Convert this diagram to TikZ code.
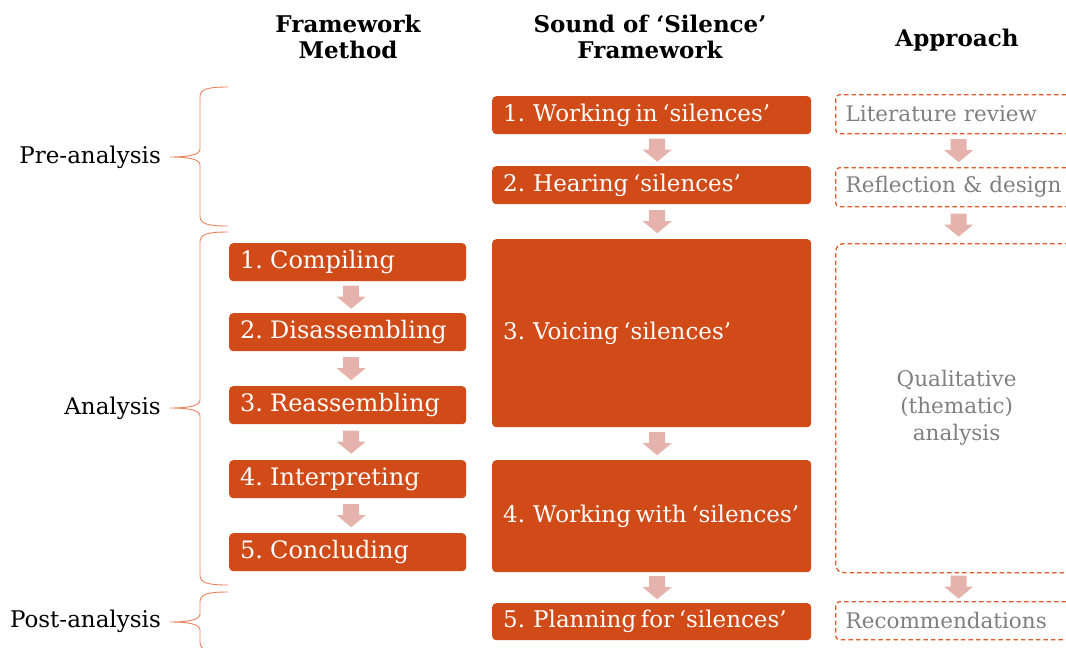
\documentclass[tikz,border=0pt]{standalone}
\usepackage{fontspec}
\setmainfont{DejaVu Serif}
\usetikzlibrary{calc}
\definecolor{boxfill}{HTML}{D14B18}
\definecolor{arrfill}{HTML}{E6B2AC}
\definecolor{dashcol}{HTML}{E2592B}
\definecolor{bracecol}{HTML}{E8825F}
\definecolor{graytxt}{HTML}{7F7F7F}
\newcommand\numlab[1]{\makebox[30pt][l]{#1}}
\newcommand\lefttext[2]{\makebox[#1][l]{#2}}
\newcommand\midfont{\fontsize{23}{28}\selectfont\spaceskip=0.2em plus 0.05em\relax}
\newcommand\grayfont{\fontsize{21.5}{27}\selectfont\spaceskip=0.22em plus 0.05em\relax}
\tikzset{
  obox/.style={fill=boxfill, text=white, rounded corners=4pt, anchor=north west,
    inner xsep=11pt, inner ysep=0pt, minimum height=38pt},
  leftbox/.style={obox, minimum width=237pt, font=\fontsize{24}{28}\selectfont},
  midbox/.style={obox, minimum width=319pt, font=\midfont},
  dbox/.style={draw=dashcol, dash pattern=on 4.5pt off 3pt, line width=1.3pt, text=graytxt,
    rounded corners=4pt, anchor=north west, minimum height=39pt, text width=222pt,
    inner xsep=10pt, inner ysep=0pt, align=left, font=\grayfont},
  hdr/.style={font=\bfseries\fontsize{23}{26}\selectfont, align=center},
  lbl/.style={font=\fontsize{23}{26}\selectfont, anchor=east, inner sep=0pt},
  brace/.style={draw=bracecol, line width=0.9pt},
  dnarrow/.pic={\fill[arrfill] (-8,0) -- (8,0) -- (8,11) -- (14.5,11) -- (0,23) -- (-14.5,11) -- (-8,11) -- cycle;}
}
\begin{document}
\begin{tikzpicture}[x=1pt,y=-1pt]
\useasboundingbox (0,0) rectangle (1066,648);
\clip (0,0) rectangle (1066,648);

% headers
\node[hdr] (h1) at (348,37) {Framework\\Method};
\node[hdr] (h2) at (650,37) {Sound of ‘Silence’\\Framework};
\node[hdr] (h3) at (957,40) {Approach};

% Framework method column
\node[leftbox] (f1) at (229,243) {\lefttext{215pt}{\numlab{1.}Compiling}};
\node[leftbox] (f2) at (229,313) {\lefttext{215pt}{\numlab{2.}Disassembling}};
\node[leftbox] (f3) at (229,386) {\lefttext{215pt}{\numlab{3.}Reassembling}};
\node[leftbox] (f4) at (229,460) {\lefttext{215pt}{\numlab{4.}Interpreting}};
\node[leftbox] (f5) at (229,533) {\lefttext{215pt}{\numlab{5.}Concluding}};

% Sound of silence column
\node[midbox] (s1) at (492,96) {\lefttext{297pt}{\numlab{1.}Working in ‘silences’}};
\node[midbox] (s2) at (492,166) {\lefttext{297pt}{\numlab{2.}Hearing ‘silences’}};
\node[midbox, minimum height=188pt] (s3) at (492,239) {\lefttext{297pt}{\numlab{3.}Voicing ‘silences’}};
\node[midbox, minimum height=112pt] (s4) at (492,460) {\lefttext{297pt}{\numlab{4.}Working with ‘silences’}};
\node[midbox, minimum height=37pt] (s5) at (492,603) {\lefttext{297pt}{\numlab{5.}Planning for ‘silences’}};

% Approach column
\node[dbox] (a1) at (835,94) {Literature review};
\node[dbox] (a2) at (835,167) {Reflection \& design};
\node[dbox, minimum height=329pt, align=center, rounded corners=8pt] (a3) at (835,243) {Qualitative\\(thematic)\\analysis};
\node[dbox, minimum height=38pt] (a4) at (835,601) {Recommendations};

% block arrows
\foreach \a/\b in {f1/f2,f2/f3,f3/f4,f4/f5}
  \path ($(\a.south)!0.5!(\b.north)$) ++(3.5,-11.5) pic{dnarrow};
\foreach \a/\b in {s1/s2,s2/s3,s3/s4,s4/s5}
  \path ($(\a.south)!0.5!(\b.north)$) ++(5.5,-11.5) pic{dnarrow};
\foreach \a/\b in {a1/a2,a2/a3,a3/a4}
  \path ($(\a.south)!0.5!(\b.north)$) ++(2,-11.5) pic{dnarrow};

% phase labels
\node[lbl] (pre) at (161,157) {Pre-analysis};
\node[lbl] (ana) at (161,408) {Analysis};
\node[lbl] (post) at (161,621) {Post-analysis};

% braces
\coordinate (t1) at (170,157);
\coordinate (t2) at (170,408);
\coordinate (t3) at (170,622);
\draw[brace] (228,87) .. controls (208,87) and (200,89) .. (200,97) -- (200,149)
  .. controls (200,155) and (188,157) .. (t1)
  .. controls (188,157) and (200,159) .. (200,165) -- (200,216)
  .. controls (200,224) and (208,226) .. (228,226);
\draw[brace] (228,232) .. controls (208,232) and (200,234) .. (200,242) -- (200,400)
  .. controls (200,406) and (188,408) .. (t2)
  .. controls (188,408) and (200,410) .. (200,416) -- (200,575)
  .. controls (200,583) and (208,585) .. (228,585);
\draw[brace] (228,592) .. controls (208,592) and (200,594) .. (200,602) -- (200,614)
  .. controls (200,620) and (188,622) .. (t3)
  .. controls (188,622) and (200,624) .. (200,630) -- (200,642)
  .. controls (200,650) and (208,652) .. (228,652);
\end{tikzpicture}
\end{document}
